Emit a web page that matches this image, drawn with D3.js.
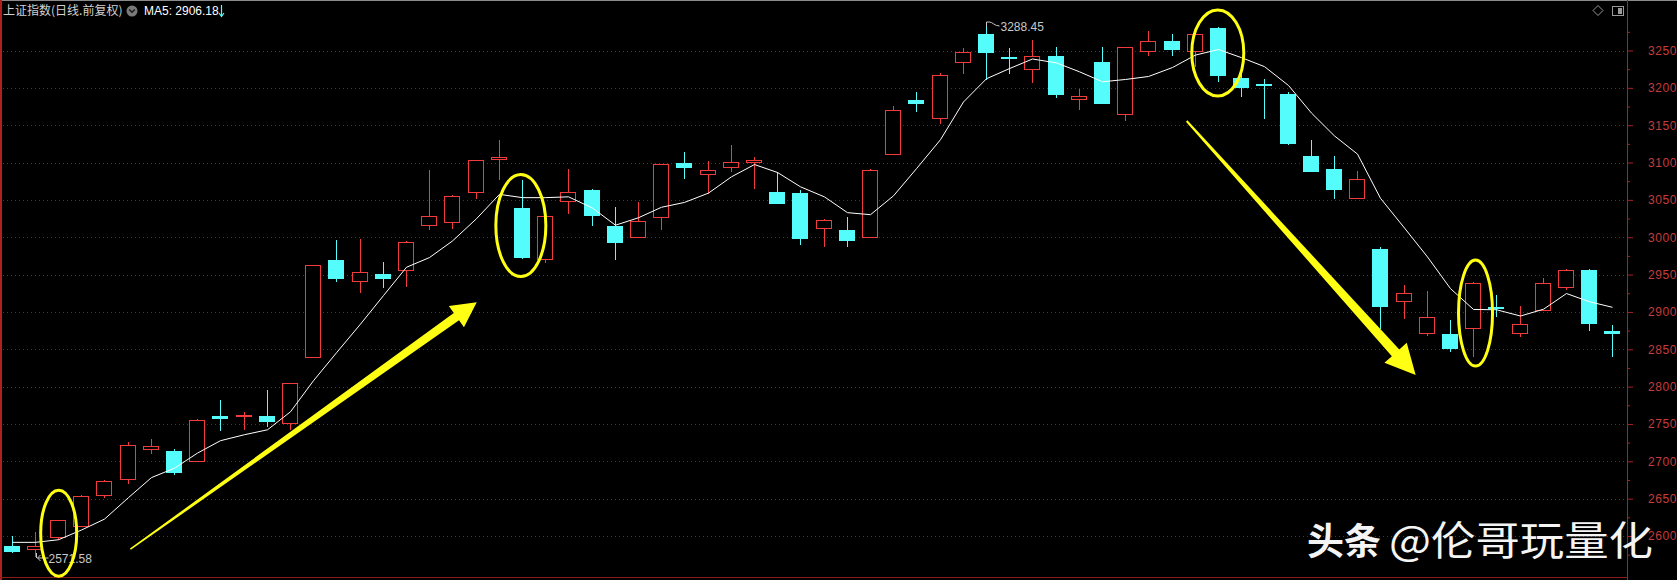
<!DOCTYPE html>
<html>
<head>
<meta charset="utf-8">
<script src="https://cdn.jsdelivr.net/npm/d3@7/dist/d3.min.js"></script>
<style>
html, body { margin: 0; padding: 0; background: #000; }
svg { display: block; }
</style>
</head>
<body>
<div id="kline"></div>
<script>
const opens = [2587, 2582, 2598, 2614, 2654.5, 2676, 2716, 2714, 2700, 2761,
    2760.5, 2761, 2751, 2839, 2970, 2941, 2950.5, 2956, 3017, 3020,
    3061, 3104.5, 3039, 2971, 3049, 3063, 3014.5, 3000, 3027, 3100,
    3084, 3094, 3101, 3060, 3059, 3013, 3010, 3000, 3112, 3184,
    3159, 3234, 3272, 3241, 3225, 3243, 3185.5, 3235, 3164.5, 3250,
    3263, 3250, 3280, 3213, 3205, 3192, 3109, 3091, 3052.5, 2984,
    2914, 2872, 2870, 2878, 2906, 2872, 2902, 2933, 2956, 2874]
const highs = [2600, 2606, 2621, 2655, 2675, 2726, 2729.5, 2716, 2756, 2782,
    2766.5, 2795.5, 2805, 2963, 2996, 2997, 2966.5, 2995, 3090, 3056,
    3103, 3130, 3077, 3028, 3092, 3065, 3040, 3047, 3098, 3114,
    3102, 3124, 3107.5, 3088, 3063, 3024, 3027, 3092, 3176, 3195,
    3220, 3253, 3288.45, 3253, 3264, 3255, 3198, 3255, 3255, 3275.5,
    3272, 3273, 3281, 3219.5, 3211.5, 3195, 3130, 3108.5, 3089, 2987,
    2936.5, 2928, 2889, 2940, 2922, 2908, 2945, 2957, 2957, 2883]
const lows = [2577, 2571.58, 2595, 2612, 2651, 2669, 2710, 2682, 2699, 2740,
    2742, 2746.5, 2742, 2838, 2940.5, 2926, 2931.5, 2933, 3010, 3011.5,
    3051, 3077, 2971, 2965, 3031, 3014.5, 2969.5, 2999, 3010, 3077.5,
    3058, 3087, 3065, 3044, 2989, 2987.5, 2987, 2999, 3111, 3167,
    3152, 3219, 3211, 3218, 3207, 3187, 3170, 3178, 3155, 3242,
    3243, 3228.5, 3208, 3188, 3158, 3123, 3087, 3051.5, 3052, 2877,
    2890, 2868, 2846, 2839, 2893, 2867, 2902, 2930, 2874, 2839]
const closes = [2578, 2586, 2621, 2654, 2674, 2722, 2720, 2684, 2755, 2757,
    2762, 2753, 2804.5, 2963, 2944, 2954, 2944, 2994, 3028, 3055,
    3103, 3107, 2972, 3028, 3060.5, 3028, 2992, 3022, 3098, 3093,
    3090.5, 3101, 3104, 3045, 2997, 3023, 2995.5, 3090.5, 3171, 3179,
    3217, 3248, 3246, 3239, 3243, 3191, 3188.5, 3179, 3254.5, 3263,
    3251, 3272, 3216, 3200, 3203, 3125, 3087.5, 3063, 3078.5, 2907,
    2926, 2893.5, 2851, 2939, 2905, 2884, 2939, 2956, 2884, 2871]
const ma5 = [2591.5, 2591.5, 2595, 2608, 2622.6, 2651.4, 2678.2, 2690.8, 2711, 2727.6,
    2735.6, 2742.2, 2766.3, 2807.9, 2845.3, 2883.7, 2921.9, 2959.8, 2972.8, 2995,
    3024.8, 3057.4, 3053, 3053, 3054.1, 3039.1, 3016.1, 3026.1, 3040.1, 3046.6,
    3059.1, 3080.9, 3097.3, 3086.7, 3067.5, 3054, 3032.9, 3030.2, 3055.4, 3091.8,
    3130.6, 3181.1, 3212.2, 3225.8, 3238.6, 3233.4, 3221.5, 3208.1, 3211.2, 3215.2,
    3227.2, 3243.9, 3251.3, 3240.4, 3228.4, 3203.2, 3166.2, 3135.6, 3111.3, 3052.1,
    3012.3, 2973.6, 2931.2, 2903.3, 2902.9, 2894.5, 2903.6, 2924.6, 2913.6, 2906.18]
const yTicks = [3250, 3200, 3150, 3100, 3050, 3000, 2950, 2900, 2850, 2800, 2750, 2700, 2650, 2600]
const yMinorTicks = [3275, 3225, 3175, 3125, 3075, 3025, 2975, 2925, 2875, 2825, 2775, 2725, 2675, 2625, 2575]

const title = "上证指数(日线.前复权)"
const maLabel = "MA5: 2906.18"
const highLabel = "3288.45"
const lowLabel = "2571.58"
const watermarkA = "头条"
const watermarkB = "@伦哥玩量化"

const width = 1677
const height = 580
const axisX = 1627
const upColor = "#f03c3c"
const downColor = "#54fcfc"
const gridColor = "#7a1f1f"
const yellow = "#ffff14"
const cjk = "'Noto Sans CJK SC', 'Liberation Sans', sans-serif"
const latin = "'Liberation Sans', Arial, sans-serif"

const svg = d3.select("#kline")
    .append("svg")
    .attr("width", width)
    .attr("height", height)
    .style("background", "#000")

const xScale = d3.scaleBand()
    .domain(d3.range(closes.length))
    .range([0, 1624])
    .paddingInner(0.3)
    .paddingOuter(0.15)
const bw = Math.round(xScale.bandwidth())
const xMid = (i) => Math.round(xScale(i) + xScale.bandwidth() / 2)
const xAt = d3.scaleLinear()
    .domain([0, closes.length - 1])
    .range([xScale(0) + xScale.bandwidth() / 2, xScale(closes.length - 1) + xScale.bandwidth() / 2])

const yScale = d3.scaleLinear()
    .domain([2600, 3250])
    .range([536, 50.5])
const py = (v) => Math.round(yScale(v))

// frame
svg.append("line").attr("x1", 0).attr("x2", width).attr("y1", 0.5).attr("y2", 0.5)
    .attr("stroke", "#8a8a8a")
svg.append("line").attr("x1", 1).attr("x2", 1).attr("y1", 0).attr("y2", height)
    .attr("stroke", "#b02020").attr("stroke-width", 2)
svg.append("line").attr("x1", 0).attr("x2", axisX).attr("y1", 577.5).attr("y2", 577.5)
    .attr("stroke", "#8a1c1c")

// grid
svg.append("g")
    .selectAll("line")
    .data(yTicks)
    .join("line")
    .attr("x1", 3)
    .attr("x2", axisX)
    .attr("y1", d => py(d) + 0.5)
    .attr("y2", d => py(d) + 0.5)
    .attr("stroke", gridColor)
    .attr("stroke-dasharray", "1,3")

// right axis
svg.append("line").attr("x1", axisX + 0.5).attr("x2", axisX + 0.5).attr("y1", 0).attr("y2", height)
    .attr("stroke", "#a82222")

const yAxis = d3.axisRight(yScale)
    .tickValues(yTicks)
    .tickSize(6)
    .tickPadding(15)
    .tickFormat(d3.format("d"))
const yAxisG = svg.append("g")
    .attr("transform", `translate(${axisX},0)`)
    .call(yAxis)
yAxisG.select(".domain").remove()
yAxisG.selectAll(".tick line").attr("stroke", "#a82222")
yAxisG.selectAll(".tick text")
    .attr("fill", "#c63c3c")
    .style("font-family", latin)
    .style("font-size", "12px")
    .style("letter-spacing", "0.6px")

const minorAxis = svg.append("g")
    .attr("transform", `translate(${axisX},0)`)
    .call(d3.axisRight(yScale).tickValues(yMinorTicks).tickSize(3).tickFormat(""))
minorAxis.select(".domain").remove()
minorAxis.selectAll(".tick line").attr("stroke", "#a82222")

// candles
const candles = closes.map((c, i) => ({ i, o: opens[i], h: highs[i], l: lows[i], c }))
const upCandles = candles.filter(d => d.c >= d.o)
const downCandles = candles.filter(d => d.c < d.o)

const candleG = svg.append("g").attr("shape-rendering", "crispEdges")

candleG.append("g")
    .selectAll("line")
    .data(downCandles)
    .join("line")
    .attr("x1", d => xMid(d.i) + 0.5)
    .attr("x2", d => xMid(d.i) + 0.5)
    .attr("y1", d => py(d.h))
    .attr("y2", d => py(d.l))
    .attr("stroke", downColor)

candleG.append("g")
    .selectAll("rect")
    .data(downCandles)
    .join("rect")
    .attr("x", d => xMid(d.i) - Math.floor(bw / 2))
    .attr("width", bw)
    .attr("y", d => py(d.o))
    .attr("height", d => Math.max(py(d.c) - py(d.o), 2))
    .attr("fill", downColor)

candleG.append("g")
    .selectAll("line")
    .data(upCandles)
    .join("line")
    .attr("x1", d => xMid(d.i) + 0.5)
    .attr("x2", d => xMid(d.i) + 0.5)
    .attr("y1", d => py(d.h))
    .attr("y2", d => py(d.c))
    .attr("stroke", upColor)

candleG.append("g")
    .selectAll("line")
    .data(upCandles)
    .join("line")
    .attr("x1", d => xMid(d.i) + 0.5)
    .attr("x2", d => xMid(d.i) + 0.5)
    .attr("y1", d => py(d.o))
    .attr("y2", d => py(d.l))
    .attr("stroke", upColor)

candleG.append("g")
    .selectAll("rect")
    .data(upCandles)
    .join("rect")
    .attr("x", d => xMid(d.i) - Math.floor(bw / 2) + 0.5)
    .attr("width", bw - 1)
    .attr("y", d => py(d.c) + 0.5)
    .attr("height", d => Math.max(py(d.o) - py(d.c), 1))
    .attr("fill", "#000")
    .attr("stroke", upColor)

// MA5
const maLine = d3.line()
    .x((d, i) => xMid(i) + 0.5)
    .y(d => yScale(d))
svg.append("path")
    .datum(ma5)
    .attr("d", maLine)
    .attr("fill", "none")
    .attr("stroke", "#fff")
    .attr("stroke-width", 1)

// high / low marks
const hiIdx = highs.indexOf(d3.max(highs))
const loIdx = lows.indexOf(d3.min(lows))
const hx = xMid(hiIdx) + 0.5
const hy = py(highs[hiIdx])
svg.append("path")
    .attr("d", `M${hx},${hy + 5} L${hx},${hy} L${hx + 3},${hy} C${hx + 6},${hy} ${hx + 8},${hy + 4} ${hx + 13},${hy + 4}`)
    .attr("fill", "none")
    .attr("stroke", "#c8c8c8")
svg.append("text")
    .attr("x", hx + 14)
    .attr("y", hy + 9)
    .attr("fill", "#c8c8c8")
    .style("font-family", latin)
    .style("font-size", "12px")
    .text(highLabel)

const lx = xMid(loIdx) + 1.5
const ly = py(lows[loIdx])
svg.append("path")
    .attr("d", `M${lx},${ly - 4} L${lx},${ly + 1} M${lx + 1},${ly + 1} L${lx + 12},${ly + 1} M${lx + 1},${ly + 1} L${lx + 4},${ly - 2} M${lx + 1},${ly + 1} L${lx + 4},${ly + 4}`)
    .attr("fill", "none")
    .attr("stroke", "#c8c8c8")
svg.append("text")
    .attr("x", lx + 12)
    .attr("y", ly + 6)
    .attr("fill", "#c8c8c8")
    .style("font-family", latin)
    .style("font-size", "12px")
    .text(lowLabel)

// yellow annotations
const circled = [
    { i: 2.03, v: 2603.7, rx: 18, ry: 43 },
    { i: 21.95, v: 3015.6, rx: 25, ry: 51 },
    { i: 51.99, v: 3246.7, rx: 26, ry: 43 },
    { i: 63.1, v: 2898.4, rx: 17, ry: 53 }
]
svg.append("g")
    .selectAll("ellipse")
    .data(circled)
    .join("ellipse")
    .attr("cx", d => xAt(d.i))
    .attr("cy", d => yScale(d.v))
    .attr("rx", d => d.rx)
    .attr("ry", d => d.ry)
    .attr("fill", "none")
    .attr("stroke", yellow)
    .attr("stroke-width", 3)

const arrows = [
    { from: [5.12, 2582.3], to: [20.05, 2913.1], w0: 1.5, w1: 9, head: 25, half: 13 },
    { from: [50.65, 3155.6], to: [60.52, 2815.4], w0: 2, w1: 10, head: 30, half: 15 }
]
const arrowPoints = (a) => {
    const x0 = xAt(a.from[0]), y0 = yScale(a.from[1])
    const x1 = xAt(a.to[0]), y1 = yScale(a.to[1])
    const len = Math.hypot(x1 - x0, y1 - y0)
    const ux = (x1 - x0) / len, uy = (y1 - y0) / len
    const nx = -uy, ny = ux
    const bx = x1 - ux * a.head, by = y1 - uy * a.head
    return [
        [x0 + nx * a.w0 / 2, y0 + ny * a.w0 / 2],
        [bx + nx * a.w1 / 2, by + ny * a.w1 / 2],
        [bx + nx * a.half, by + ny * a.half],
        [x1, y1],
        [bx - nx * a.half, by - ny * a.half],
        [bx - nx * a.w1 / 2, by - ny * a.w1 / 2],
        [x0 - nx * a.w0 / 2, y0 - ny * a.w0 / 2]
    ]
}
svg.append("g")
    .selectAll("polygon")
    .data(arrows)
    .join("polygon")
    .attr("points", d => arrowPoints(d).map(p => p.join(",")).join(" "))
    .attr("fill", yellow)

// header
svg.append("text")
    .attr("x", 3)
    .attr("y", 15)
    .attr("fill", "#d2d2d2")
    .style("font-family", cjk)
    .style("font-size", "12px")
    .text(title)
svg.append("circle").attr("cx", 132).attr("cy", 11).attr("r", 5.5).attr("fill", "#7a7a7a")
svg.append("path").attr("d", "M129.2,9.5 L132,12.3 L134.8,9.5")
    .attr("fill", "none").attr("stroke", "#1a1a1a").attr("stroke-width", 1.5)
svg.append("text")
    .attr("x", 144)
    .attr("y", 15)
    .attr("fill", "#fff")
    .style("font-family", latin)
    .style("font-size", "12px")
    .text(maLabel)
svg.append("path")
    .attr("d", "M221.5,5 L221.5,16 M219,13 L221.5,16.5 L224,13")
    .attr("fill", "none")
    .attr("stroke", downColor)
    .attr("stroke-width", 1.2)

svg.append("path")
    .attr("d", "M1593,10.5 L1598,5.5 L1603,10.5 L1598,15.5 Z")
    .attr("fill", "none")
    .attr("stroke", "#9a9a9a")
svg.append("rect").attr("x", 1612.5).attr("y", 6.5).attr("width", 11).attr("height", 9)
    .attr("fill", "none").attr("stroke", "#9a9a9a")
svg.append("rect").attr("x", 1618).attr("y", 8).attr("width", 4).attr("height", 6)
    .attr("fill", "#9a9a9a")

// watermark
svg.append("text")
    .attr("x", 1307)
    .attr("y", 555)
    .attr("fill", "#f4f4f4")
    .style("font-family", cjk)
    .style("font-weight", 700)
    .style("font-size", "37px")
    .text(watermarkA)
svg.append("text")
    .attr("x", 1389)
    .attr("y", 555)
    .attr("fill", "#f4f4f4")
    .style("font-family", cjk)
    .style("font-weight", 400)
    .style("font-size", "40px")
    .attr("textLength", 264)
    .attr("lengthAdjust", "spacingAndGlyphs")
    .text(watermarkB)
</script>
</body>
</html>
